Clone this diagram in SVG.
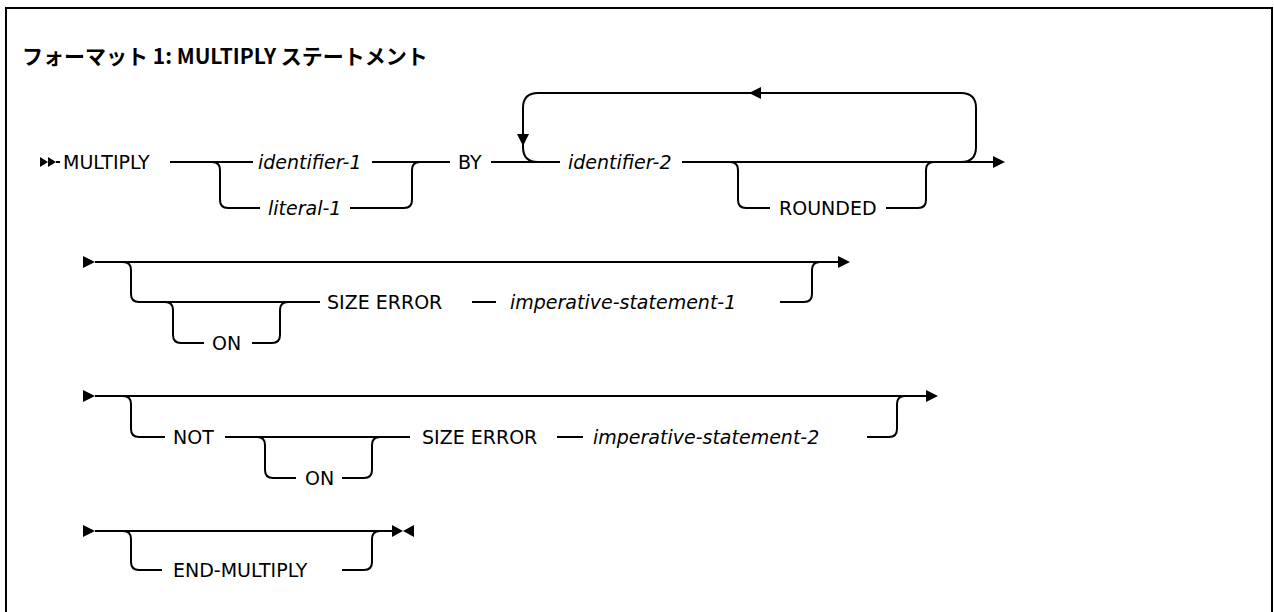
<svg xmlns="http://www.w3.org/2000/svg" width="1274" height="612" viewBox="0 0 1274 612">
<style>
.ln{fill:none;stroke:#000;stroke-width:2}
.ah{fill:#000;stroke:none}
.kw{font-family:"DejaVu Sans","Liberation Sans",sans-serif;font-size:19px;fill:#000}
.var{font-family:"DejaVu Sans","Liberation Sans",sans-serif;font-size:19px;font-style:italic;fill:#000}
.title{font-family:"Noto Sans CJK JP","Noto Sans",sans-serif;font-size:21px;font-weight:bold;fill:#000}
</style>
<rect x="6" y="8" width="1266" height="700" fill="#fff" stroke="#000" stroke-width="2"/>
<g id="title"><text class="title" x="22" y="64">フォーマット 1: MULTIPLY ステートメント</text></g>
<g id="connectors">
<path class="ln" d="M56,162 H60"/>
<path class="ln" d="M170,162 H253"/>
<path class="ln" d="M212,162 Q220,162 220,170 V200 Q220,208 228,208 H260"/>
<path class="ln" d="M350,208 H404 Q412,208 412,200 V170 Q412,162 420,162"/>
<path class="ln" d="M372,162 H450"/>
<path class="ln" d="M491,162 H560"/>
<path class="ln" d="M682,162 H994"/>
<path class="ln" d="M730,162 Q738,162 738,170 V200 Q738,208 746,208 H770"/>
<path class="ln" d="M886,208 H918 Q926,208 926,200 V170 Q926,162 934,162"/>
<path class="ln" d="M961,162 Q976,162 976,147 V108 Q976,93 961,93 H538 Q523,93 523,108 V147 Q523,162 538,162"/>
<path class="ln" d="M95,262 H839"/>
<path class="ln" d="M123,262 Q131,262 131,270 V294 Q131,302 139,302 H320"/>
<path class="ln" d="M165,302 Q173,302 173,310 V335 Q173,343 181,343 H204"/>
<path class="ln" d="M252,343 H272 Q280,343 280,335 V310 Q280,302 288,302"/>
<path class="ln" d="M472,302 H496"/>
<path class="ln" d="M780,302 H804 Q812,302 812,294 V270 Q812,262 820,262"/>
<path class="ln" d="M95,396 H927"/>
<path class="ln" d="M123,396 Q131,396 131,404 V429 Q131,437 139,437 H165"/>
<path class="ln" d="M225,437 H410"/>
<path class="ln" d="M257,437 Q265,437 265,445 V470 Q265,478 273,478 H296"/>
<path class="ln" d="M342,478 H364 Q372,478 372,470 V445 Q372,437 380,437"/>
<path class="ln" d="M557,437 H583"/>
<path class="ln" d="M867,437 H889 Q897,437 897,429 V404 Q897,396 905,396"/>
<path class="ln" d="M95,531 H393"/>
<path class="ln" d="M123,531 Q131,531 131,539 V562 Q131,570 139,570 H162"/>
<path class="ln" d="M342,570 H364 Q372,570 372,562 V539 Q372,531 380,531"/>
<polygon class="ah" points="40,157 48,162 40,167"/>
<polygon class="ah" points="48,157 56,162 48,167"/>
<polygon class="ah" points="517,134 529,134 523,146"/>
<polygon class="ah" points="749,93 761,87 761,99"/>
<polygon class="ah" points="993,156 1005,162 993,168"/>
<polygon class="ah" points="83,256 95,262 83,268"/>
<polygon class="ah" points="838,256 850,262 838,268"/>
<polygon class="ah" points="83,390 95,396 83,402"/>
<polygon class="ah" points="926,390 938,396 926,402"/>
<polygon class="ah" points="83,525 95,531 83,537"/>
<polygon class="ah" points="392,525 403,531 392,537"/>
<polygon class="ah" points="414,525 403,531 414,537"/>
</g>
<g id="n-multiply"><text class="kw" x="63" y="169">MULTIPLY</text></g>
<g id="n-identifier-1"><text class="var" x="258" y="169">identifier-1</text></g>
<g id="n-literal-1"><text class="var" x="268" y="215">literal-1</text></g>
<g id="n-by"><text class="kw" x="458" y="169">BY</text></g>
<g id="n-identifier-2"><text class="var" x="568" y="169">identifier-2</text></g>
<g id="n-rounded"><text class="kw" x="779" y="215">ROUNDED</text></g>
<g id="n-on-1"><text class="kw" x="212" y="350">ON</text></g>
<g id="n-size-error-1"><text class="kw" x="327" y="309">SIZE ERROR</text></g>
<g id="n-imperative-1"><text class="var" x="510" y="309">imperative-statement-1</text></g>
<g id="n-not"><text class="kw" x="173" y="444">NOT</text></g>
<g id="n-on-2"><text class="kw" x="305" y="485">ON</text></g>
<g id="n-size-error-2"><text class="kw" x="422" y="444">SIZE ERROR</text></g>
<g id="n-imperative-2"><text class="var" x="593" y="444">imperative-statement-2</text></g>
<g id="n-end-multiply"><text class="kw" x="173" y="577">END-MULTIPLY</text></g>
</svg>
